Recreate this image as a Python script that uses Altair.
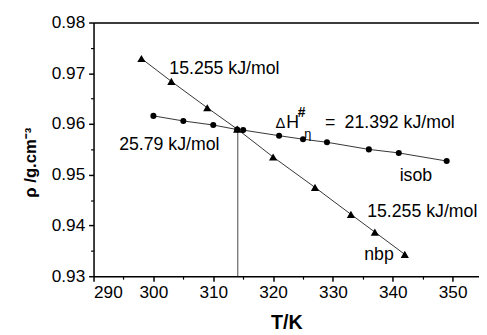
import altair as alt
import pandas as pd

# nbp series (triangles)
nbp_T = [298, 303, 309, 314, 320, 327, 333, 337, 342]
nbp_rho = [0.9729, 0.9684, 0.9632, 0.9590, 0.9535, 0.9475, 0.9422, 0.9387, 0.9343]

# isob series (circles)
isob_T = [300, 305, 310, 314, 315, 321, 325, 329, 336, 341, 349]
isob_rho = [0.9616, 0.9606, 0.9598, 0.9589, 0.9588, 0.9577, 0.9570, 0.9564, 0.9550, 0.9543, 0.9527]

# vertical marker at intersection
cross_T = [314.1, 314.1]
cross_rho = [0.9590, 0.9300]

# annotations
ann_text = ["15.255 kJ/mol", "25.79 kJ/mol", "Δ", "H", "#", "η", "=", "21.392 kJ/mol",
            "isob", "15.255 kJ/mol", "nbp"]
ann_T = [302.66, 294.28, 320.4, 322.2, 324.1, 325.2, 328.65, 331.94, 341.15, 335.72, 335.23]
ann_rho = [0.95926, 0.95481, 0.95926, 0.95926, 0.96130, 0.95733, 0.95926, 0.95926,
           0.94880, 0.94163, 0.93310]
ann_rho[0] = 0.96983
ann_size = [18, 18, 15, 18, 14, 13, 18, 18, 18, 18, 18]
ann_weight = ["normal", "normal", "normal", "normal", "bold", "normal", "normal", "normal",
              "normal", "normal", "normal"]

x_major = [290, 300, 310, 320, 330, 340, 350]
x_minor = [295, 305, 315, 325, 335, 345]
y_major = [0.93, 0.94, 0.95, 0.96, 0.97, 0.98]
y_minor = [0.935, 0.945, 0.955, 0.965, 0.975]

FONT = "Liberation Sans"
xs = alt.Scale(domain=[290, 354.4], nice=False, zero=False)
ys = alt.Scale(domain=[0.93, 0.98], nice=False, zero=False)

nbp = pd.DataFrame({"T": nbp_T, "rho": nbp_rho})
isob = pd.DataFrame({"T": isob_T, "rho": isob_rho})
cross = pd.DataFrame({"T": cross_T, "rho": cross_rho})
ann = pd.DataFrame({"T": ann_T, "rho": ann_rho, "label": ann_text, "fs": ann_size,
                    "w": ann_weight})
ann_n = ann[ann["w"] == "normal"]
ann_b = ann[ann["w"] == "bold"]

main_x = alt.Axis(orient="bottom", values=x_major, tickSize=5, tickWidth=1.5, tickColor="black",
                  domainColor="black", domainWidth=1.5, labelFont=FONT, labelFontSize=17.5,
                  labelColor="black", labelPadding=3, grid=False, title="T/K",
                  titleFont=FONT, titleFontSize=20, titleFontWeight="bold", titleColor="black",
                  titleY=53, titleBaseline="alphabetic")
main_y = alt.Axis(orient="left", values=y_major, format=".2f", tickSize=5, tickWidth=1.5,
                  tickColor="black", domainColor="black", domainWidth=1.5, labelFont=FONT,
                  labelFontSize=17.5, labelColor="black", labelPadding=4, grid=False,
                  title="ρ /g.cm⁻³", titleFont=FONT, titleFontSize=17, titleFontWeight="bold",
                  titleColor="black", titleX=-59, titleY=142, titleAlign="center",
                  titleBaseline="alphabetic", titleAngle=270)
minor_x = alt.Axis(orient="bottom", values=x_minor, tickSize=3, tickWidth=1.2, tickColor="black",
                   labels=False, domain=False, grid=False, title="")
minor_y = alt.Axis(orient="left", values=y_minor, tickSize=3, tickWidth=1.2, tickColor="black",
                   labels=False, domain=False, grid=False, title="")
top_x = alt.Axis(orient="top", labels=False, ticks=False, domain=True, domainColor="black",
                 domainWidth=1.5, grid=False, title="")

nbp_line = alt.Chart(nbp).mark_line(color="#333333", strokeWidth=1).encode(
    x=alt.X("T:Q", scale=xs, axis=main_x),
    y=alt.Y("rho:Q", scale=ys, axis=main_y),
)
nbp_pts = alt.Chart(nbp).mark_point(shape="triangle-up", filled=True, color="black",
                                    size=70, opacity=1).encode(
    x=alt.X("T:Q", scale=xs, axis=None),
    y=alt.Y("rho:Q", scale=ys, axis=None),
)
isob_line = alt.Chart(isob).mark_line(color="#333333", strokeWidth=1).encode(
    x=alt.X("T:Q", scale=xs, axis=minor_x),
    y=alt.Y("rho:Q", scale=ys, axis=minor_y),
)
isob_pts = alt.Chart(isob).mark_point(shape="circle", filled=True, color="black",
                                      size=38, opacity=1).encode(
    x=alt.X("T:Q", scale=xs, axis=None),
    y=alt.Y("rho:Q", scale=ys, axis=None),
)
cross_line = alt.Chart(cross).mark_line(color="#444444", strokeWidth=1).encode(
    x=alt.X("T:Q", scale=xs, axis=top_x),
    y=alt.Y("rho:Q", scale=ys, axis=None),
)
labels = alt.Chart(ann_n).mark_text(font=FONT, align="left", baseline="alphabetic",
                                    color="black").encode(
    x=alt.X("T:Q", scale=xs, axis=None),
    y=alt.Y("rho:Q", scale=ys, axis=None),
    text="label:N",
    size=alt.Size("fs:Q", scale=None, legend=None),
)
labels_b = alt.Chart(ann_b).mark_text(font=FONT, align="left", baseline="alphabetic",
                                      color="black", fontWeight="bold").encode(
    x=alt.X("T:Q", scale=xs, axis=None),
    y=alt.Y("rho:Q", scale=ys, axis=None),
    text="label:N",
    size=alt.Size("fs:Q", scale=None, legend=None),
)

chart = alt.layer(nbp_line, isob_line, cross_line, nbp_pts, isob_pts, labels, labels_b).resolve_axis(
    x="independent", y="independent"
).properties(
    width=392, height=258,
    autosize=alt.AutoSizeParams(type="none"),
    padding={"left": 87, "top": 12, "right": 0, "bottom": 57},
).configure_view(stroke=None).configure(background="white")

chart.save("out.html", embed_options={"renderer": "svg", "actions": False})
